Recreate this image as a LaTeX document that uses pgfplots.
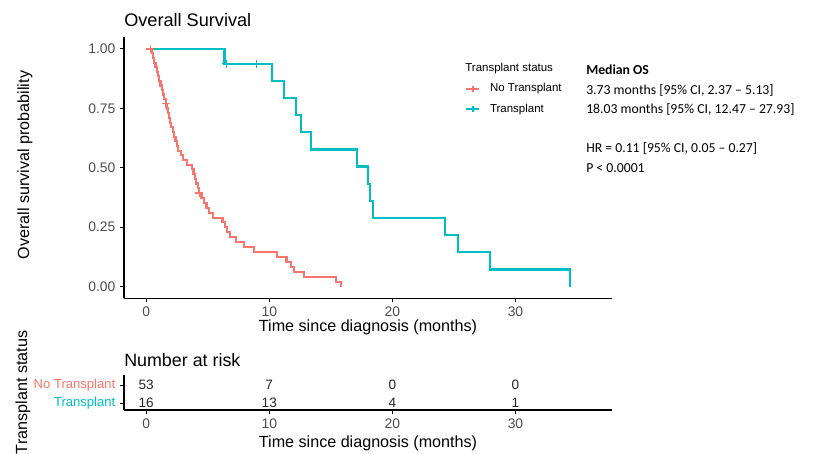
\documentclass[border=0pt]{standalone}
\usepackage{fontspec}
\setmainfont{Liberation Sans}
\newfontfamily\calibri{Carlito}
\usepackage{pgfplots}
\pgfplotsset{compat=1.18}
\definecolor{ggred}{HTML}{F8766D}
\definecolor{ggteal}{HTML}{00BFC4}
\definecolor{gtick}{HTML}{4D4D4D}
\begin{document}
\begin{tikzpicture}
\useasboundingbox (0,0) rectangle (620.25pt,339.75pt);
\clip (0,0) rectangle (620.25pt,339.75pt);
\pgfplotsset{
  kmaxis/.style={
    scale only axis, anchor=south west, width=365.625pt,
    xmin=-1.8, xmax=37.8,
    axis x line*=bottom, axis y line*=left,
    axis line style={-, line width=0.8pt, black},
    xtick={0,10,20,30},
    tick align=outside, major tick length=3pt,
    tick style={line width=0.7pt, black},
    ticklabel style={font=\fontsize{10.4}{12}\selectfont, text=gtick},
    /pgf/number format/assume math mode=true,
  }
}
\begin{axis}[kmaxis, at={(93pt,115.875pt)}, height=196.125pt,
  ymin=-0.05, ymax=1.05,
  ytick={0,0.25,0.5,0.75,1}, yticklabels={0.00,0.25,0.50,0.75,1.00},
  legend image code/.code={%
    \draw[#1, mark=none] (0pt,0pt) -- (9.5pt,0pt);
    \draw[#1] plot[mark=+, mark size=2.4pt] coordinates {(4.75pt,0pt)};},
  legend cell align=left,
  legend style={font=\fontsize{8.6}{10}\selectfont, draw=none, fill=none,
    at={(0.6995,0.910)}, anchor=north west, inner sep=0pt, row sep=4pt,
    column sep=6pt,
    nodes={inner sep=1.5pt, text height=6.5pt, text depth=1.8pt}},
]
\addlegendimage{empty legend}
\addlegendentry{\hspace{-18.5pt}Transplant status}
\addplot[const plot, color=ggred, line width=1.6pt, mark=none] coordinates {
(0,1) (0.45,0.981) (0.55,0.962) (0.66,0.942) (0.76,0.923) (0.86,0.904) (0.97,0.885)
(1.07,0.865) (1.17,0.846) (1.28,0.827) (1.38,0.808) (1.48,0.788) (1.58,0.769)
(1.68,0.749) (1.76,0.730) (1.84,0.710) (1.95,0.690) (2.05,0.671) (2.15,0.651)
(2.28,0.631) (2.38,0.611) (2.48,0.592) (2.6,0.572) (2.8,0.552) (3.0,0.533)
(3.3,0.513) (3.73,0.493) (3.85,0.473) (3.95,0.454) (4.05,0.434) (4.18,0.414) (4.28,0.394)
(4.5,0.373) (4.68,0.352) (4.9,0.332) (5.1,0.311) (5.4,0.290) (6.2,0.270) (6.4,0.249)
(6.55,0.228) (6.8,0.207) (7.3,0.187) (7.95,0.166) (8.74,0.145)
(10.6,0.124) (11.4,0.104) (11.8,0.083) (12.0,0.062) (12.8,0.041) (15.45,0.021) (15.8,0)
};
\addlegendentry{No Transplant}
\addplot[const plot, color=ggteal, line width=1.6pt, mark=none] coordinates {
(0,1) (6.36,0.9375) (10.2,0.865) (11.2,0.793) (12.2,0.721) (12.57,0.649) (13.4,0.577)
(17.1,0.505) (18.03,0.433) (18.17,0.361) (18.4,0.288) (24.3,0.216) (25.3,0.144)
(27.93,0.072) (34.4,0)
};
\addlegendentry{Transplant}
\addplot[forget plot, only marks, mark=+, mark size=3pt, color=ggred, line width=1pt]
  coordinates {(0.35,1.0) (1.62,0.769) (4.33,0.394)};
\addplot[forget plot, only marks, mark=+, mark size=3pt, color=ggteal, line width=1pt]
  coordinates {(6.5,0.9375) (8.94,0.9375)};
\end{axis}
\begin{axis}[kmaxis, at={(93pt,32.25pt)}, height=26.25pt,
  ymin=0.61, ymax=2.56,
  ytick={1,2},
  yticklabels={\textcolor{ggteal}{Transplant},\textcolor{ggred}{No Transplant}},
  yticklabel style={font=\fontsize{9.8}{11}\selectfont},
]
\addplot[only marks, mark=none, nodes near coords, point meta=explicit symbolic,
  nodes near coords style={anchor=center, font=\fontsize{10.2}{12}\selectfont, text=black!85}]
  coordinates {(0,2) [53] (10,2) [7] (20,2) [0] (30,2) [0]
               (0,1) [16] (10,1) [13] (20,1) [4] (30,1) [1]};
\end{axis}
% titles and axis labels
\node[anchor=west, inner sep=0pt, font=\fontsize{13.6}{15}\selectfont] at (93pt,324.75pt) {Overall Survival};
\node[inner sep=0pt, font=\fontsize{12.1}{14}\selectfont] at (276pt,94.5pt) {Time since diagnosis (months)};
\node[inner sep=0pt, rotate=90, font=\fontsize{12.1}{14}\selectfont] at (18.75pt,216pt) {Overall survival probability};
\node[anchor=west, inner sep=0pt, font=\fontsize{13.4}{15}\selectfont] at (93pt,69.75pt) {Number at risk};
\node[inner sep=0pt, font=\fontsize{12.1}{14}\selectfont] at (276pt,7.5pt) {Time since diagnosis (months)};
\node[inner sep=0pt, rotate=90, font=\fontsize{12.1}{14}\selectfont] at (17.25pt,45.4pt) {Transplant status};
% annotation text
\begin{scope}[every node/.style={anchor=base west, inner sep=0pt, font=\calibri\fontsize{10.3}{12}\selectfont}]
\node at (439.5pt,283.5pt) {\bfseries Median OS};
\node at (439.5pt,268.9pt) {3.73 months [95\% CI, 2.37 – 5.13]};
\node at (439.5pt,254.25pt) {18.03 months [95\% CI, 12.47 – 27.93]};
\node at (439.5pt,225pt) {HR = 0.11 [95\% CI, 0.05 – 0.27]};
\node at (439.5pt,210.4pt) {P < 0.0001};
\end{scope}
\end{tikzpicture}
\end{document}
